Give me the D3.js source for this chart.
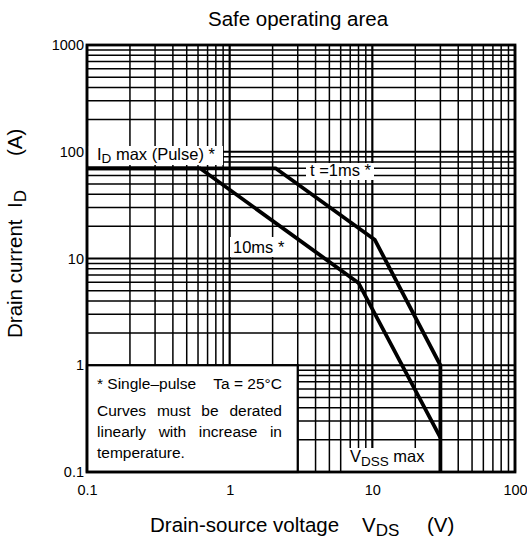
<!DOCTYPE html>
<html>
<head>
<meta charset="utf-8">
<script src="https://cdn.jsdelivr.net/npm/d3@7"></script>
<style>
  body { margin: 0; background: #fff; }
  text { font-family: "Liberation Sans", Arial, sans-serif; fill: #000; }
</style>
</head>
<body>
<svg id="chart" width="527" height="542"></svg>
<script>
// values
var xTicks = [0.1, 1, 10, 100];
var yTicks = [0.1, 1, 10, 100, 1000];

// 1 ms line (incl. the VDSS max drop at 30 V)
var vds1ms = [0.1, 2.1, 10.4, 30, 30];
var id1ms  = [70, 70, 15, 1, 0.1];

// 10 ms line
var vds10ms = [0.1, 0.62, 8, 30];
var id10ms  = [70, 70, 5.9, 0.21];

var svgWidth = 527, svgHeight = 542;
var plot = { left: 87, top: 45, right: 515, bottom: 472 };

var svg = d3.select('#chart')
    .attr("width", svgWidth)
    .attr("height", svgHeight);

var x = d3.scaleLog().domain([0.1, 100]).range([plot.left, plot.right]);
var y = d3.scaleLog().domain([0.1, 1000]).range([plot.bottom, plot.top]);

function isDecade(d) {
    var l = Math.log10(d);
    return Math.abs(l - Math.round(l)) < 1e-9;
}

// ---- grid
var grid = svg.append("g");
grid.selectAll("line.v")
    .data(x.ticks())
    .enter().append("line")
    .attr("x1", function(d) { return x(d); })
    .attr("x2", function(d) { return x(d); })
    .attr("y1", plot.top)
    .attr("y2", plot.bottom)
    .attr("stroke", "#000")
    .attr("stroke-width", function(d) { return isDecade(d) ? 2.2 : 1.5; });

grid.selectAll("line.h")
    .data(y.ticks())
    .enter().append("line")
    .attr("y1", function(d) { return y(d); })
    .attr("y2", function(d) { return y(d); })
    .attr("x1", plot.left)
    .attr("x2", plot.right)
    .attr("stroke", "#000")
    .attr("stroke-width", function(d) { return isDecade(d) ? 2.2 : 1.5; });

// ---- white boxes that hide the grid under labels
function whiteBox(x0, y0, x1, y1) {
    svg.append("rect")
        .attr("x", x0).attr("y", y0)
        .attr("width", x1 - x0).attr("height", y1 - y0)
        .attr("fill", "#fff");
}
whiteBox(plot.left + 1, 146, 223, 165);   // ID max
whiteBox(306, 163, 374, 180);             // t = 1ms
whiteBox(230, 237, 288, 257);             // 10ms
whiteBox(346, 448, 429, plot.bottom - 1); // VDSS max

// note box in the lower left corner
svg.append("rect")
    .attr("x", x(0.1))
    .attr("y", y(1))
    .attr("width", x(3) - x(0.1))
    .attr("height", y(0.1) - y(1))
    .attr("fill", "#fff")
    .attr("stroke", "#000")
    .attr("stroke-width", 2.2);

// ---- frame
svg.append("rect")
    .attr("x", plot.left).attr("y", plot.top)
    .attr("width", plot.right - plot.left)
    .attr("height", plot.bottom - plot.top)
    .attr("fill", "none")
    .attr("stroke", "#000")
    .attr("stroke-width", 2.8);

// ---- curves
var line = d3.line()
    .x(function(d) { return x(d[0]); })
    .y(function(d) { return y(d[1]); });

[d3.zip(vds1ms, id1ms), d3.zip(vds10ms, id10ms)].forEach(function(pts) {
    svg.append("path")
        .datum(pts)
        .attr("fill", "none")
        .attr("stroke", "#000")
        .attr("stroke-width", 3.8)
        .attr("stroke-linejoin", "miter")
        .attr("d", line);
});

// ---- axes (labels only)
var fmt = d3.format("~g");
var yAxis = svg.append("g")
    .attr("transform", "translate(" + plot.left + ",0)")
    .call(d3.axisLeft(y).tickValues(yTicks).tickFormat(fmt).tickSize(0).tickPadding(3));
var xAxis = svg.append("g")
    .attr("transform", "translate(0," + plot.bottom + ")")
    .call(d3.axisBottom(x).tickValues(xTicks).tickFormat(fmt).tickSize(0).tickPadding(13));
[xAxis, yAxis].forEach(function(a) {
    a.select(".domain").remove();
    a.selectAll("text")
        .attr("font-family", "Liberation Sans, Arial, sans-serif")
        .attr("font-size", 14.5)
        .attr("fill", "#000");
});

// ---- labels in the plot
var t1 = svg.append("text").attr("x", 97).attr("y", 160).attr("font-size", 16.5);
t1.append("tspan").text("I");
t1.append("tspan").attr("dy", 3).attr("font-size", 13.5).text("D");
t1.append("tspan").attr("dy", -3).text(" max (Pulse) *");

svg.append("text").attr("x", 310).attr("y", 176).attr("font-size", 16.5).text("t =1ms *");
svg.append("text").attr("x", 233).attr("y", 253).attr("font-size", 16.5).text("10ms *");

var t4 = svg.append("text").attr("x", 350).attr("y", 462).attr("font-size", 16.5);
t4.append("tspan").text("V");
t4.append("tspan").attr("dy", 4).attr("font-size", 13.5).text("DSS");
t4.append("tspan").attr("dy", -4).text(" max");

// ---- note text (justified)
var noteLeft = 97, noteRight = 282;
function justify(words, baseline) {
    var g = svg.append("g");
    var nodes = words.map(function(w) {
        return g.append("text").attr("y", baseline).attr("font-size", 15.5).text(w);
    });
    var total = d3.sum(nodes, function(n) { return n.node().getComputedTextLength(); });
    var gap = (noteRight - noteLeft - total) / (words.length - 1);
    var pos = noteLeft;
    nodes.forEach(function(n) {
        n.attr("x", pos);
        pos += n.node().getComputedTextLength() + gap;
    });
}
justify(["* Single\u2013pulse", "Ta = 25\u00B0C"], 389);
justify(["Curves", "must", "be", "derated"], 416);
justify(["linearly", "with", "increase", "in"], 437);
svg.append("text").attr("x", noteLeft).attr("y", 458).attr("font-size", 15.5).text("temperature.");

// ---- titles
svg.append("text")
    .attr("x", 298).attr("y", 26)
    .attr("text-anchor", "middle")
    .attr("font-size", 20.5)
    .text("Safe operating area");

var xt = svg.append("text").attr("x", 150).attr("y", 532).attr("font-size", 20.5);
xt.append("tspan").text("Drain-source voltage");
xt.append("tspan").attr("x", 362).text("V");
xt.append("tspan").attr("dy", 4).attr("font-size", 17).text("DS");
xt.append("tspan").attr("x", 427).attr("dy", -4).text("(V)");

var yt = svg.append("text")
    .attr("transform", "translate(22,338) rotate(-90)")
    .attr("font-size", 20.5);
yt.append("tspan").text("Drain current");
yt.append("tspan").attr("x", 130).text("I");
yt.append("tspan").attr("dy", 4).attr("font-size", 17).text("D");
yt.append("tspan").attr("x", 182).attr("dy", -4).text("(A)");
</script>
</body>
</html>
